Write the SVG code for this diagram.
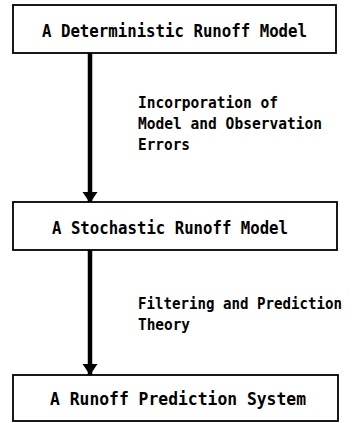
<svg xmlns="http://www.w3.org/2000/svg" width="363" height="423" viewBox="0 0 363 423">
<style>
.box{fill:#fff;stroke:#000;stroke-width:1.8}
.t{font-family:"DejaVu Sans Mono","Liberation Mono",monospace;font-weight:bold;fill:#000}
.bt{font-size:18px}
.lt{font-size:15px}
.shaft{stroke:#000;stroke-width:4.5;fill:none}
</style>
<defs>
<marker id="ah" markerUnits="userSpaceOnUse" markerWidth="12" markerHeight="16" refX="11" refY="8" orient="auto">
<path d="M0,0.5 L11,8 L0,15.5 Z" fill="#000"/>
</marker>
</defs>
<rect width="363" height="423" fill="#fff"/>
<g id="connectors">
<line class="shaft" x1="90" y1="53" x2="90" y2="203" marker-end="url(#ah)"/>
<line class="shaft" x1="90" y1="250" x2="90" y2="375" marker-end="url(#ah)"/>
<text class="t lt" x="138" y="108" textLength="140" lengthAdjust="spacingAndGlyphs">Incorporation of</text>
<text class="t lt" x="138" y="129" textLength="184" lengthAdjust="spacingAndGlyphs">Model and Observation</text>
<text class="t lt" x="138" y="150" textLength="52" lengthAdjust="spacingAndGlyphs">Errors</text>
<text class="t lt" x="138" y="309" textLength="204" lengthAdjust="spacingAndGlyphs">Filtering and Prediction</text>
<text class="t lt" x="138" y="330" textLength="52" lengthAdjust="spacingAndGlyphs">Theory</text>
</g>
<g id="node1">
<rect class="box" x="13" y="5" width="323" height="48"/>
<text class="t bt" x="42" y="37" textLength="265" lengthAdjust="spacingAndGlyphs">A Deterministic Runoff Model</text>
</g>
<g id="node2">
<rect class="box" x="13" y="202" width="324" height="48"/>
<text class="t bt" x="52" y="234" textLength="236" lengthAdjust="spacingAndGlyphs">A Stochastic Runoff Model</text>
</g>
<g id="node3">
<rect class="box" x="13" y="375" width="325" height="46"/>
<text class="t bt" x="50" y="405" textLength="256" lengthAdjust="spacingAndGlyphs">A Runoff Prediction System</text>
</g>
</svg>
